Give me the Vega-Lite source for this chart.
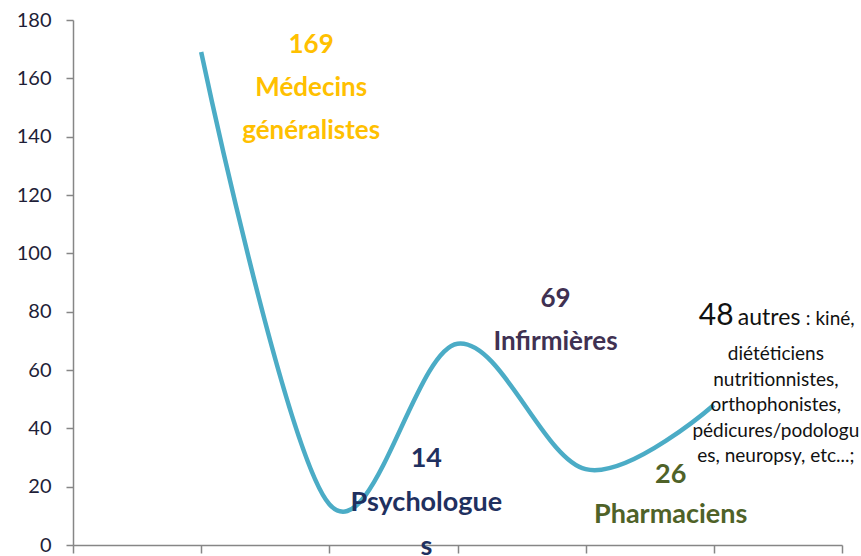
{
  "$schema": "https://vega.github.io/schema/vega-lite/v6.json",
  "width": 769,
  "height": 525,
  "autosize": "none",
  "padding": {"left": 73, "top": 20, "right": 19, "bottom": 11},
  "background": "white",
  "config": {"view": {"stroke": null}, "font": "Lato"},
  "data": {"values": [
    {"pos": 1, "count": 169, "label": "169\nMédecins\ngénéralistes"},
    {"pos": 2, "count": 14, "label": "14\nPsychologue\ns"},
    {"pos": 3, "count": 69, "label": "69\nInfirmières"},
    {"pos": 4, "count": 26, "label": "26\nPharmaciens"},
    {"pos": 5, "count": 48, "label": "48", "name": "autres", "note": ": kiné,", "detail": "diététiciens\nnutritionnistes,\northophonistes,\npédicures/podologu\nes, neuropsy, etc...;"}
  ]},
  "encoding": {
    "x": {"field": "pos", "type": "quantitative",
      "scale": {"domain": [0, 6], "nice": false, "zero": false},
      "axis": {"title": null, "values": [0, 1, 2, 3, 4, 5, 6], "labels": false, "grid": false,
        "domainColor": "#868686", "domainWidth": 1.5, "tickColor": "#868686", "tickWidth": 1.5, "tickSize": 8}},
    "y": {"field": "count", "type": "quantitative",
      "scale": {"domain": [0, 180], "nice": false},
      "axis": {"title": null, "values": [0, 20, 40, 60, 80, 100, 120, 140, 160, 180], "grid": false,
        "domainColor": "#868686", "domainWidth": 1.5, "tickColor": "#868686", "tickWidth": 1.5, "tickSize": 7,
        "labelFont": "Lato", "labelFontSize": 20, "labelColor": "#1e1e38", "labelPadding": 15}}
  },
  "layer": [
    {"mark": {"type": "line", "interpolate": "cardinal", "color": "#4BACC6", "strokeWidth": 4.5}},
    {"transform": [{"filter": "datum.pos == 1"}],
     "mark": {"type": "text", "align": "center", "baseline": "alphabetic", "lineBreak": "\n", "lineHeight": 43,
       "font": "Lato", "fontWeight": "bold", "fontSize": 26, "color": "#FFC000", "dx": 110, "dy": 1},
     "encoding": {"text": {"field": "label"}}},
    {"transform": [{"filter": "datum.pos == 2"}],
     "mark": {"type": "text", "align": "center", "baseline": "alphabetic", "lineBreak": "\n", "lineHeight": 44,
       "font": "Lato", "fontWeight": "bold", "fontSize": 27, "color": "#1F3060", "dx": 97, "dy": -37},
     "encoding": {"text": {"field": "label"}}},
    {"transform": [{"filter": "datum.pos == 3"}],
     "mark": {"type": "text", "align": "center", "baseline": "alphabetic", "lineBreak": "\n", "lineHeight": 43,
       "font": "Lato", "fontWeight": "bold", "fontSize": 26, "color": "#403152", "dx": 98, "dy": -37},
     "encoding": {"text": {"field": "label"}}},
    {"transform": [{"filter": "datum.pos == 4"}],
     "mark": {"type": "text", "align": "center", "baseline": "alphabetic", "lineBreak": "\n", "lineHeight": 40,
       "font": "Lato", "fontWeight": "bold", "fontSize": 27, "color": "#4F6228", "dx": 85, "dy": 14},
     "encoding": {"text": {"field": "label"}}},
    {"transform": [{"filter": "datum.pos == 5"}],
     "mark": {"type": "text", "align": "left", "baseline": "alphabetic",
       "font": "Lato", "fontSize": 30, "color": "#111111", "dx": -15, "dy": -80},
     "encoding": {"text": {"field": "label"}}},
    {"transform": [{"filter": "datum.pos == 5"}],
     "mark": {"type": "text", "align": "left", "baseline": "alphabetic",
       "font": "Lato", "fontSize": 23, "color": "#111111", "dx": 24, "dy": -80},
     "encoding": {"text": {"field": "name"}}},
    {"transform": [{"filter": "datum.pos == 5"}],
     "mark": {"type": "text", "align": "left", "baseline": "alphabetic",
       "font": "Lato", "fontSize": 19, "color": "#111111", "dx": 92, "dy": -80},
     "encoding": {"text": {"field": "note"}}},
    {"transform": [{"filter": "datum.pos == 5"}],
     "mark": {"type": "text", "align": "center", "baseline": "alphabetic", "lineBreak": "\n", "lineHeight": 25.5,
       "font": "Lato", "fontSize": 19, "color": "#111111", "dx": 62, "dy": -45},
     "encoding": {"text": {"field": "detail"}}}
  ]
}
